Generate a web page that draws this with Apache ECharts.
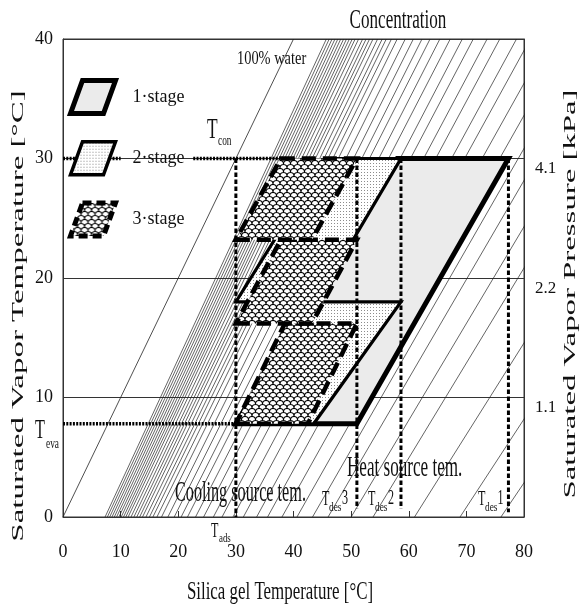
<!DOCTYPE html>
<html><head><meta charset="utf-8">
<script src="https://cdn.jsdelivr.net/npm/echarts@6/dist/echarts.min.js"></script>
<style>html,body{margin:0;padding:0;background:#fff}#c{width:579px;height:607px}</style>
</head><body><div id="c"></div>
<script>
// ---------------- data ----------------
const xTicks = [0, 10, 20, 30, 40, 50, 60, 70, 80];
const xTickLabels = ['0', '10', '20', '30', '40', '50', '60', '70', '80'];
const yTicks = [0, 10, 20, 30, 40];
const yTickLabels = ['0', '10', '20', '30', '40'];
const pressureTickTemps = [10, 20, 30];
const pressureTickLabels = ['1.1', '2.2', '4.1'];

// cycle parallelograms [x, y] (silica gel temp, saturated vapor temp)
const stage1 = [[30, 7.8], [51, 7.8], [77.3, 30], [58, 30]];
const stage2Lower = [[30, 7.8], [43.5, 7.8], [58.65, 18], [44, 18]];
const stage2Upper = [[30, 18], [44, 18], [58.65, 30], [45.5, 30]];
const stage3Lower = [[30, 7.8], [42.5, 7.8], [51, 16.2], [38.5, 16.2]];
const stage3Middle = [[30, 16.2], [43.2, 16.2], [51, 23.2], [37.8, 23.2]];
const stage3Upper = [[30, 23.2], [43.2, 23.2], [51, 30], [37.8, 30]];

// 100% water line
const waterLine = [[0, 0], [40, 40]];
// isosteres (concentration lines): x where each crosses y=0 and y=40
const isoBottomX = [7.3, 7.7, 8.1, 8.5, 8.9, 9.3, 9.7, 10.1, 10.5, 10.9, 11.3, 11.8, 12.3, 12.8, 13.3, 13.8, 14.4, 15.0, 15.6, 16.3, 17.1, 18.2, 19.3, 20.5, 21.6, 23.0, 24.4, 26.1, 27.6, 29.5, 31.3, 33.6, 35.5, 38.0, 40.6, 43.3, 46.0, 50.0, 53.8, 61.0, 68.9, 76.0];
const isoTopX = [45.7, 46.2, 46.7, 47.2, 47.7, 48.2, 48.7, 49.2, 49.7, 50.2, 50.7, 51.3, 52.0, 52.6, 53.2, 53.8, 54.6, 55.4, 56.1, 57.0, 58.0, 59.4, 60.8, 62.3, 63.7, 65.4, 67.2, 69.3, 71.2, 73.6, 75.8, 78.7, 81.1, 84.3, 87.5, 90.9, 94.3, 99.4, 104.1, 113.2, 123.1, 132.0];

// reference (dotted) lines
const tconLine = [[22.6, 30], [37.8, 30]];
const tconLeft = [[0, 30], [10, 30]];
const tevaLine = [[0, 7.8], [30, 7.8]];
const tadsLine = [[30, 30], [30, 0]];
const tdes3Line = [[51, 30], [51, 0.7]];
const tdes2Line = [[58.65, 30], [58.65, 0.7]];
const tdes1Line = [[77.3, 30], [77.3, 0.4]];

const stageNames = ['1·stage', '2·stage', '3·stage'];

// ---------------- styling helpers ----------------
const SERIF = '"Liberation Serif", "Times New Roman", serif';

function dotsPattern() {
  const c = document.createElement('canvas'); c.width = 3; c.height = 3;
  const g = c.getContext('2d');
  g.fillStyle = '#fff'; g.fillRect(0, 0, 3, 3);
  g.fillStyle = '#8c8c8c'; g.fillRect(1, 1, 1, 1);
  return c;
}
function scalesPattern() {
  const w = 7, h = 8;
  const c = document.createElement('canvas'); c.width = w; c.height = h;
  const g = c.getContext('2d');
  g.fillStyle = '#fff'; g.fillRect(0, 0, w, h);
  g.strokeStyle = '#000'; g.lineWidth = 1.1;
  g.beginPath(); g.arc(w / 2, h, w / 2, Math.PI, 2 * Math.PI); g.stroke();
  g.beginPath(); g.arc(0, h / 2, w / 2, Math.PI, 2 * Math.PI); g.stroke();
  g.beginPath(); g.arc(w, h / 2, w / 2, Math.PI, 2 * Math.PI); g.stroke();
  return c;
}
const fill1 = '#ebebeb';
const fill2 = { image: dotsPattern(), repeat: 'repeat' };
const fill3 = { image: scalesPattern(), repeat: 'repeat' };

function polySeries(name, polys, fill, lw, dash) {
  return {
    type: 'custom', name, coordinateSystem: 'cartesian2d', silent: true, z: 3,
    data: polys.map(p => p.reduce((a, v) => a.concat(v), [])),
    encode: { x: [0, 2, 4, 6], y: [1, 3, 5, 7] },
    renderItem: (params, api) => {
      const pts = [];
      for (let i = 0; i < 4; i++) pts.push(api.coord([api.value(2 * i), api.value(2 * i + 1)]));
      return { type: 'polygon', shape: { points: pts },
        style: { fill, stroke: '#000', lineWidth: lw, lineDash: dash || null, lineJoin: 'miter' } };
    }
  };
}
function lineSeries(data, width, color, type, z) {
  return { type: 'line', data, symbol: 'none', showSymbol: false, silent: true, z: z,
    clip: true, lineStyle: { width, color, type: type || 'solid', cap: 'butt' } };
}
function txt(text, x, y, size, o) {
  o = o || {};
  return { type: 'text', x, y, rotation: o.rot || 0, scaleX: o.sx || 1, scaleY: 1, silent: true, z: 100,
    style: { text, fill: '#111', fontSize: size, fontFamily: SERIF, align: o.align || 'left', verticalAlign: 'middle' } };
}

const series = [];
isoBottomX.forEach((xb, i) => series.push(lineSeries([[xb, 0], [isoTopX[i], 40]], 0.7, '#222', 'solid', 1)));
series.push(lineSeries(waterLine, 0.8, '#222', 'solid', 1));
series.push(polySeries(stageNames[0], [stage1], fill1, 5));
series.push(polySeries(stageNames[1], [stage2Lower, stage2Upper], fill2, 3.2));
series.push(polySeries(stageNames[2], [stage3Lower, stage3Middle, stage3Upper], fill3, 4.5, [14, 7]));
const hDot = [2, 1.3], vDot = [4.5, 2.5];
series.push(lineSeries(tconLine, 3.5, '#000', hDot, 5));
series.push(lineSeries(tconLeft, 3.5, '#000', hDot, 5));
series.push(lineSeries(tevaLine, 3.5, '#000', hDot, 5));
[tadsLine, tdes3Line, tdes2Line, tdes1Line].forEach(l => series.push(lineSeries(l, 3, '#000', vDot, 5)));

const PARA = 'path://M12,0L45,0L33,33L0,33Z';

const graphic = [
  txt('Concentration', 398, 21, 28, { align: 'center', sx: 0.61 }),
  txt('100% water', 237, 59, 18, { sx: 0.8 }),
  txt('T', 207, 130, 29, { sx: 0.6 }), txt('con', 218, 141, 15, { sx: 0.62 }),
  txt('T', 35, 431, 27, { sx: 0.6 }), txt('eva', 46, 444, 15, { sx: 0.62 }),
  txt('T', 211, 531, 22, { sx: 0.55 }), txt('ads', 219, 539, 13, { sx: 0.68 }),
  txt('T', 322, 499, 22, { sx: 0.55 }), txt('des', 329, 508, 13, { sx: 0.72 }), txt('3', 342, 498, 22, { sx: 0.55 }),
  txt('T', 368, 499, 22, { sx: 0.55 }), txt('des', 375, 508, 13, { sx: 0.72 }), txt('2', 388, 498, 22, { sx: 0.55 }),
  txt('T', 478, 499, 22, { sx: 0.55 }), txt('des', 485, 508, 13, { sx: 0.72 }), txt('1', 497.5, 498, 22, { sx: 0.55 }),
  txt('Cooling source tem.', 175, 493, 30, { sx: 0.54 }),
  txt('Heat source tem.', 347, 468, 30, { sx: 0.57 }),
  txt('Silica gel Temperature [°C]', 280, 592, 26, { align: 'center', sx: 0.65 }),
  txt('Saturated Vapor Temperature [°C]', 18.5, 316, 17, { align: 'center', sx: 1.94, rot: Math.PI / 2 }),
  txt('Saturated Vapor Pressure [kPa]', 571, 294, 17, { align: 'center', sx: 1.93, rot: Math.PI / 2 })
];

const axisLabelStyle = { fontFamily: SERIF, fontSize: 18, color: '#111' };

const option = {
  animation: false,
  grid: { left: 63, right: 55, top: 39, bottom: 90, show: true, borderColor: '#333', borderWidth: 1,
    backgroundColor: 'transparent', containLabel: false, outerBoundsMode: 'none' },
  xAxis: { type: 'value', min: 0, max: 80, interval: 10,
    axisLine: { show: true, lineStyle: { color: '#333', width: 1 } },
    axisTick: { show: true, inside: true, length: 6, lineStyle: { color: '#333' } },
    axisLabel: Object.assign({ margin: 26, formatter: v => xTickLabels[xTicks.indexOf(v)] }, axisLabelStyle),
    splitLine: { show: false } },
  yAxis: [
    { type: 'value', min: 0, max: 40, interval: 10,
      axisLine: { show: true, lineStyle: { color: '#333', width: 1 } },
      axisTick: { show: false },
      axisLabel: Object.assign({ margin: 10, formatter: v => yTickLabels[yTicks.indexOf(v)] }, axisLabelStyle),
      splitLine: { show: true, lineStyle: { color: '#333', width: 1 } } },
    { type: 'value', min: 0, max: 40, interval: 10, position: 'right',
      axisLine: { show: true, lineStyle: { color: '#333', width: 1 } },
      axisTick: { show: false }, splitLine: { show: false },
      axisLabel: Object.assign({ margin: 11, verticalAlign: 'top', padding: [2, 0, 0, 0],
        formatter: v => { const i = pressureTickTemps.indexOf(v); return i >= 0 ? pressureTickLabels[i] : ''; } },
        axisLabelStyle, { fontSize: 17 }) }
  ],
  legend: { left: 68, top: 78, orient: 'vertical', itemWidth: 45, itemHeight: 33, itemGap: 24,
    padding: 0, selectedMode: false, z: 20,
    textStyle: { fontFamily: SERIF, fontSize: 18, color: '#111', padding: [0, 0, 0, 12] },
    data: [
      { name: stageNames[0], icon: PARA, itemStyle: { color: fill1, borderColor: '#000', borderWidth: 5 } },
      { name: stageNames[1], icon: PARA, itemStyle: { color: fill2, borderColor: '#000', borderWidth: 3.5 } },
      { name: stageNames[2], icon: PARA, itemStyle: { color: fill3, borderColor: '#000', borderWidth: 5, borderType: [9, 5] } }
    ] },
  graphic,
  series
};

const chart = echarts.init(document.getElementById('c'), null, { renderer: 'canvas' });
chart.setOption(option);
</script></body></html>
